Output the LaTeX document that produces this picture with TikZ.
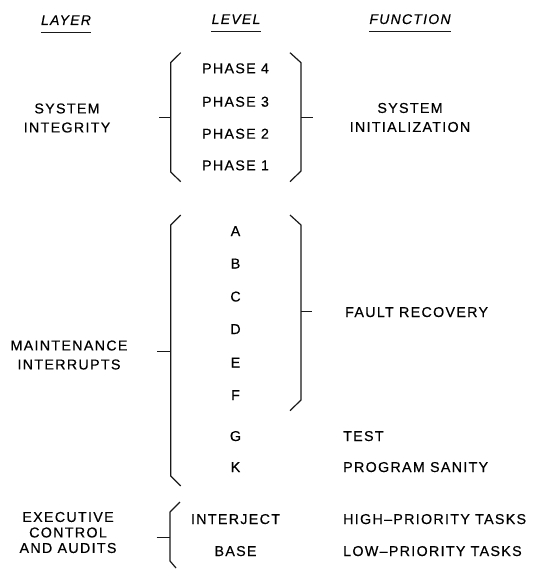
\documentclass[tikz,border=0pt]{standalone}
\usepackage{fontspec}
\setmainfont{Liberation Sans}[LetterSpace=9, FakeBold=0.4]
\begin{document}
\begin{tikzpicture}[x=1pt,y=-1pt,
  lbl/.style={font=\fontsize{14.3}{19}\selectfont, inner sep=0pt, text=black},
  hdr/.style={font=\fontsize{14}{19}\selectfont\itshape, inner sep=0pt, anchor=base, text=black},
  lvl/.style={lbl, anchor=base},
  fn/.style={lbl, anchor=base west},
  brk/.style={draw=black!90, line width=1.2pt, line join=round},
  ul/.style={draw=black!90, line width=1pt}
]
\useasboundingbox (0,0) rectangle (536,569);
% headers
\node[hdr] (hlayer) at (66,25) {LAYER};
\node[hdr] (hlevel) at (236,24) {LEVEL};
\node[hdr] (hfunc) at (410,24) {FUNCTION};
\draw[ul] ([yshift=-7.5pt]hlayer.base west) -- ([yshift=-7.5pt]hlayer.base east);
\draw[ul] ([yshift=-7.5pt]hlevel.base west) -- ([yshift=-7.5pt]hlevel.base east);
\draw[ul] ([yshift=-7.5pt]hfunc.base west) -- ([yshift=-7.5pt]hfunc.base east);

% layer labels
\node[lbl, align=center] (sysint) at (67,118) {SYSTEM\\INTEGRITY};
\node[lbl, align=center] (maint) at (69,355) {MAINTENANCE\\INTERRUPTS};
\node[lbl, align=center, font=\fontsize{14.3}{15.5}\selectfont] (exec) at (68,532.5) {EXECUTIVE\\CONTROL\\AND AUDITS};

% levels
\node[lvl] (p4) at (235.5,73.3) {PHASE 4};
\node[lvl] (p3) at (235.5,106.7) {PHASE 3};
\node[lvl] (p2) at (235.5,138.7) {PHASE 2};
\node[lvl] (p1) at (235.5,170.3) {PHASE 1};
\node[lvl] (la) at (235.5,236) {A};
\node[lvl] (lb) at (235.5,268.5) {B};
\node[lvl] (lc) at (235.5,301.5) {C};
\node[lvl] (ld) at (235.5,334) {D};
\node[lvl] (le) at (235.5,367.5) {E};
\node[lvl] (lf) at (235.5,400) {F};
\node[lvl] (lg) at (235.5,441) {G};
\node[lvl] (lk) at (235.5,472) {K};
\node[lvl] (inter) at (235.5,524) {INTERJECT};
\node[lvl] (base) at (235.5,556) {BASE};

% functions
\node[lbl, align=center] (sysinit) at (410,117.5) {SYSTEM\\INITIALIZATION};
\node[fn] (fault) at (345,317) {FAULT RECOVERY};
\node[fn] (test) at (343,441) {TEST};
\node[fn] (sanity) at (343,472) {PROGRAM SANITY};
\node[fn] (high) at (343,524) {HIGH--PRIORITY TASKS};
\node[fn] (low) at (343,556) {LOW--PRIORITY TASKS};

% brackets
\draw[brk] (180.7,52.7) -- (170.7,62.5) -- (170.7,172) -- (180.7,181.7);
\draw[brk] (159.3,117.3) -- (170.7,117.3);
\draw[brk] (290,52.7) -- (301,62.7) -- (301,171) -- (290,181.7);
\draw[brk] (301,117.3) -- (312.7,117.3);

\draw[brk] (180.7,215) -- (170.7,225) -- (170.7,476) -- (180.7,486);
\draw[brk] (157.3,351.7) -- (170.7,351.7);
\draw[brk] (290,215) -- (301,225) -- (301,400) -- (290,410.7);
\draw[brk] (301,311.7) -- (312.3,311.7);

\draw[brk] (180,502) -- (170,512) -- (170,561) -- (176,568);
\draw[brk] (156.7,537.3) -- (170,537.3);
\end{tikzpicture}
\end{document}
